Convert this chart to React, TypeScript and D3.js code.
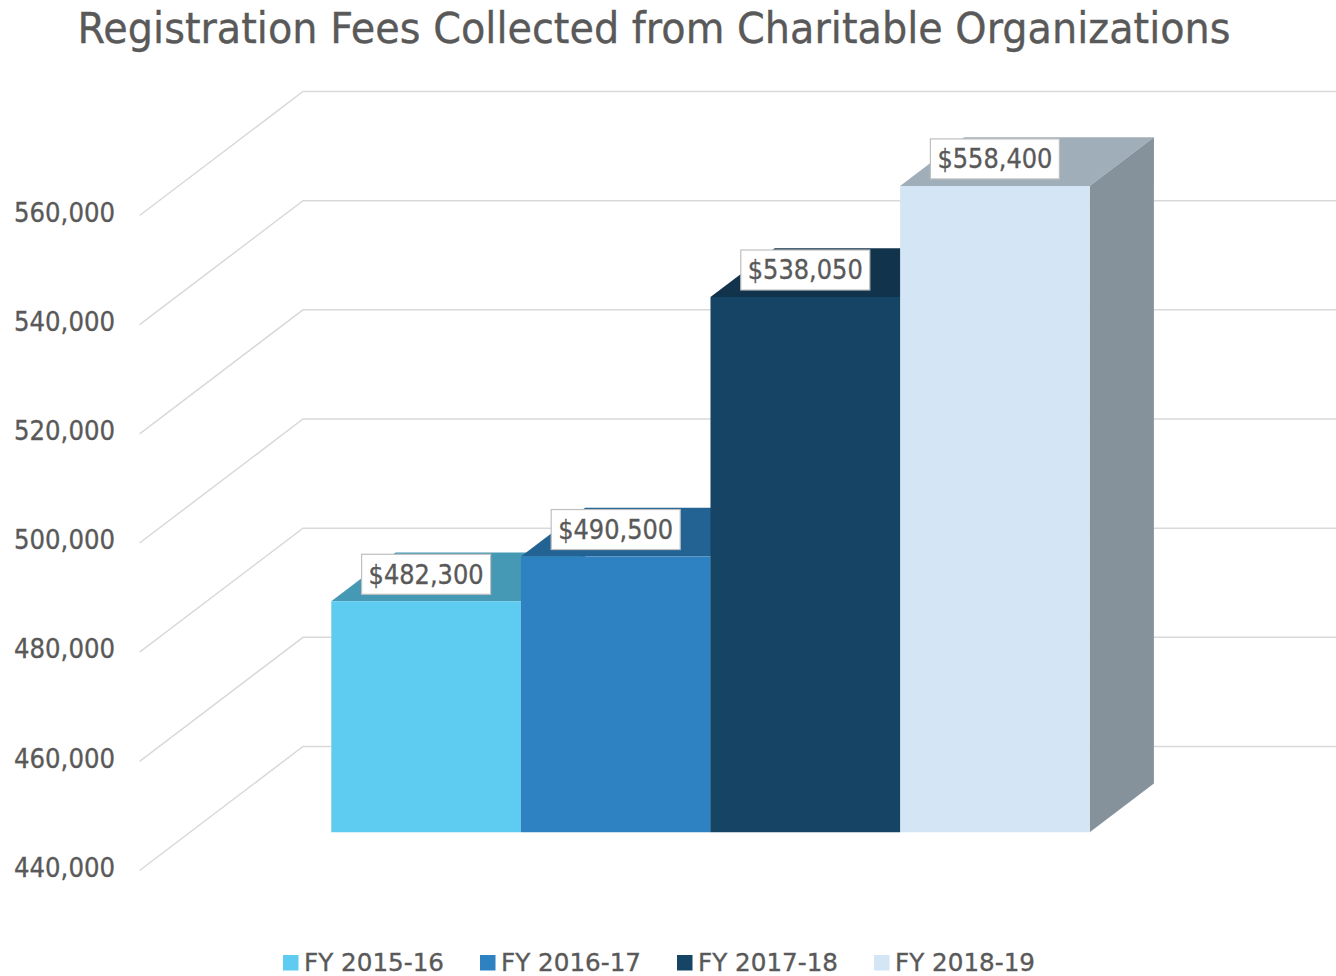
import React from "react";
import * as d3 from "d3";

const categories = ["FY 2015-16", "FY 2016-17", "FY 2017-18", "FY 2018-19"];
const values = [482300, 490500, 538050, 558400];
const tickValues = [440000, 460000, 480000, 500000, 520000, 540000, 560000];
const frontColors = ["#5ecbf0", "#2e82c2", "#164464", "#d4e6f5"];
const topColors = ["#4699b5", "#236393", "#12334c", "#a0aeba"];
const sideColors = ["#3a7f98", "#1d527a", "#0e2a40", "#86929b"];
const legendX = [283, 480, 677, 874];

const FONT = "'DejaVu Sans', sans-serif";
const W = 1336, H = 976;

// plot at depth 0 (front of the floor); depth 1 is the back wall
const y = d3.scaleLinear().domain([440000, 560000]).range([870.5, 215.5]);
const x = d3.scaleBand().domain(categories).range([280.8, 1039.2]).padding(0);
const DX = 163.4, DY = 124;
const Z0 = 0.309, Z1 = 0.702;
const P = (px: number, v: number, z: number): [number, number] => [px + z * DX, y(v) - z * DY];
const poly = (pts: [number, number][]) => pts.map((p) => p.join(",")).join(" ");
const money = d3.format("$,");
const tickFmt = d3.format(",");
const ink = { fill: "#595959", stroke: "#595959", strokeWidth: 0.35 };

export default function App() {
  return (
    <svg width={W} height={H} style={{ position: "absolute", left: 0, top: 0, background: "#fff" }}>
      <text x={654} y={43} textAnchor="middle" fontFamily={FONT} fontSize={42} {...ink}
        textLength={1153} lengthAdjust="spacingAndGlyphs">
        Registration Fees Collected from Charitable Organizations
      </text>
      {tickValues.map((t) => {
        const a = [139.6, y(t)];
        const b = [139.6 + DX, y(t) - DY];
        return (
          <g key={t}>
            <polyline points={`${a[0]},${a[1]} ${b[0]},${b[1]} ${W},${b[1]}`} fill="none" stroke="#d9d9d9" strokeWidth={1.5} />
            <text x={115} y={y(t) - 3.5} dy="0.36em" textAnchor="end" fontFamily={FONT} fontSize={27} {...ink}
              textLength={101} lengthAdjust="spacingAndGlyphs">
              {tickFmt(t)}
            </text>
          </g>
        );
      })}
      {categories.map((c, i) => {
        const x0 = x(c)!, x1 = x0 + x.bandwidth(), v = values[i], b = tickValues[0];
        return (
          <g key={c}>
            <polygon points={poly([P(x0, v, Z0), P(x1, v, Z0), P(x1, v, Z1), P(x0, v, Z1)])} fill={topColors[i]} />
            <polygon points={poly([P(x1, b, Z0), P(x1, v, Z0), P(x1, v, Z1), P(x1, b, Z1)])} fill={sideColors[i]} />
            <polygon points={poly([P(x0, b, Z0), P(x1, b, Z0), P(x1, v, Z0), P(x0, v, Z0)])} fill={frontColors[i]} />
          </g>
        );
      })}
      {categories.map((c, i) => {
        const [fx, fy] = P(x(c)! + x.bandwidth() / 2, values[i], Z0);
        return (
          <g key={c}>
            <rect x={fx - 64.5} y={fy - 47} width={129} height={40} fill="#fff" stroke="#bfbfbf" strokeWidth={1.2} />
            <text x={fx} y={fy - 27.5} dy="0.36em" textAnchor="middle" fontFamily={FONT} fontSize={27} {...ink}
              textLength={115} lengthAdjust="spacingAndGlyphs">
              {money(values[i])}
            </text>
          </g>
        );
      })}
      {categories.map((c, i) => (
        <g key={c}>
          <rect x={legendX[i]} y={955} width={15.5} height={15.5} fill={frontColors[i]} />
          <text x={legendX[i] + 21} y={970.5} fontFamily={FONT} fontSize={25} {...ink}
            textLength={140} lengthAdjust="spacingAndGlyphs">
            {c}
          </text>
        </g>
      ))}
    </svg>
  );
}
